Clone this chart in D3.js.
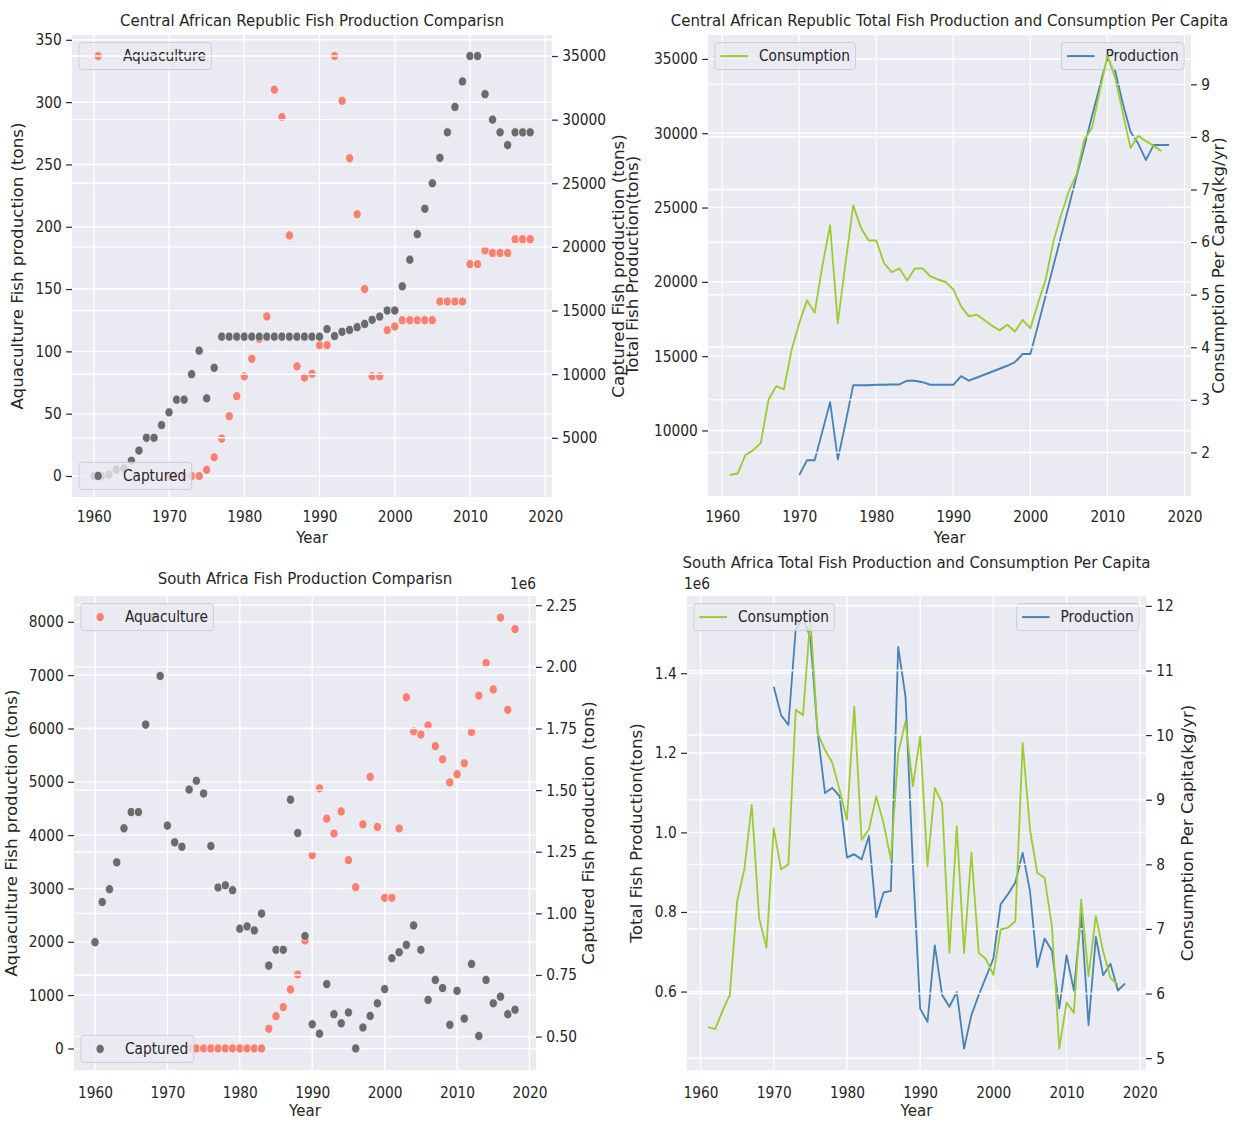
<!DOCTYPE html>
<html>
<head>
<meta charset="utf-8">
<script src="https://cdn.jsdelivr.net/npm/d3@7"></script>
<style>
  body { margin: 0; background: #fff; }
  text { font-family: "DejaVu Sans", sans-serif; fill: #262626; }
</style>
</head>
<body>
<svg id="chart" width="1234" height="1122"></svg>
<script>
// ---- data ----
var decadeTicks = [1960, 1970, 1980, 1990, 2000, 2010, 2020];

// Central African Republic
var carCapturedYears = d3.range(1960, 2019);
var carCaptured = [2000, 2000, 2100, 2500, 2600, 3200, 4000, 5000, 5000, 6000,
  7000, 8000, 8000, 10000, 11850, 8100, 10500, 12950, 12950, 12950,
  12950, 12950, 12950, 12950, 12950, 12950, 12950, 12950, 12950, 12950,
  12950, 13550, 13000, 13330, 13480, 13690, 13950, 14270, 14530, 15000,
  15000, 16900, 19000, 21000, 23000, 25000, 27000, 29000, 31000, 33000,
  35000, 35000, 32000, 30000, 29000, 28000, 29000, 29000, 29000];
var carAquaYears = d3.range(1970, 2019);
var carAquaculture = [0, 0, 0, 0, 0, 5, 15, 30, 48, 64,
  80, 94, 110, 128, 310, 288, 193, 88, 79, 82,
  105, 105, 337, 301, 255, 210, 150, 80, 80, 117,
  120, 125, 125, 125, 125, 125, 140, 140, 140, 140,
  170, 170, 181, 179, 179, 179, 190, 190, 190];
var carProdYears = d3.range(1970, 2019);
var carProduction = [7000, 8000, 8000, 9950, 11900, 8050, 10500, 13050, 13050, 13050,
  13080, 13080, 13100, 13100, 13350, 13350, 13250, 13080, 13080, 13080,
  13080, 13650, 13350, 13550, 13750, 13950, 14150, 14350, 14600, 15150,
  15150, 17100, 19100, 21100, 23100, 25100, 27100, 29100, 31150, 33150,
  35200, 34200, 32000, 30100, 29300, 28200, 29200, 29200, 29200];
var carConsYears = d3.range(1961, 2018);
var carConsumption = [1.57, 1.60, 1.95, 2.04, 2.18, 3.00, 3.26, 3.20, 3.95,
  4.46, 4.89, 4.66, 5.55, 6.32, 4.46, 5.60, 6.70, 6.27, 6.03,
  6.03, 5.60, 5.43, 5.50, 5.27, 5.50, 5.50, 5.35, 5.29, 5.24,
  5.10, 4.78, 4.59, 4.62, 4.52, 4.41, 4.32, 4.43, 4.30, 4.52,
  4.36, 4.84, 5.30, 6.02, 6.52, 6.97, 7.29, 7.95, 8.17, 8.87,
  9.54, 9.13, 8.46, 7.79, 8.02, 7.92, 7.83, 7.73];

// South Africa (captured and production in millions of tons, axis shows 1e6)
var saCapturedYears = d3.range(1960, 2019);
var saCaptured = [0.883, 1.046, 1.098, 1.207, 1.345, 1.411, 1.411, 1.766, 2.200, 1.963,
  1.356, 1.288, 1.270, 1.502, 1.538, 1.486, 1.273, 1.105, 1.114, 1.094,
  0.938, 0.947, 0.931, 0.999, 0.788, 0.852, 0.852, 1.461, 1.326, 0.908,
  0.550, 0.512, 0.713, 0.591, 0.554, 0.598, 0.452, 0.537, 0.584, 0.635,
  0.693, 0.818, 0.842, 0.872, 0.951, 0.852, 0.649, 0.730, 0.697, 0.548,
  0.686, 0.573, 0.795, 0.503, 0.730, 0.635, 0.662, 0.591, 0.609];
var saAquaYears = d3.range(1973, 2019);
var saAquaculture = [0, 0, 0, 0, 0, 0, 0, 0, 0, 0, 0,
  369, 606, 775, 1106, 1387, 2025, 3625, 4877, 4308, 4030,
  4444, 3531, 3025, 4203, 5093, 4153, 2825, 2825, 4123, 6584,
  5947, 5885, 6058, 5669, 5421, 4988, 5143, 5347, 5935, 6615,
  7227, 6732, 8080, 6349, 7864];
var saProdYears = d3.range(1970, 2019);
var saProduction = [1.366, 1.295, 1.270, 1.510, 1.540, 1.490, 1.250, 1.099, 1.112, 1.091,
  0.937, 0.945, 0.932, 0.991, 0.787, 0.849, 0.853, 1.466, 1.341, 0.920,
  0.557, 0.524, 0.716, 0.591, 0.562, 0.599, 0.457, 0.541, 0.591, 0.637,
  0.683, 0.820, 0.845, 0.874, 0.949, 0.853, 0.662, 0.733, 0.703, 0.558,
  0.691, 0.603, 0.795, 0.516, 0.737, 0.641, 0.670, 0.603, 0.620];
var saConsYears = d3.range(1961, 2018);
var saConsumption = [5.48, 5.45, 5.73, 5.98, 7.43, 7.94, 8.92, 7.17, 6.71,
  8.56, 7.92, 8.00, 10.39, 10.31, 11.82, 10.03, 9.77, 9.57, 9.15,
  8.69, 10.44, 8.38, 8.54, 9.05, 8.64, 8.07, 9.72, 10.21, 9.21,
  9.98, 7.97, 9.18, 8.95, 6.63, 8.59, 6.63, 8.18, 6.63, 6.53,
  6.29, 6.99, 7.02, 7.12, 9.88, 8.54, 7.87, 7.79, 7.04, 5.15,
  5.86, 5.70, 7.45, 6.27, 7.20, 6.65, 6.24, 6.14];

// tick values
var carAquaTicks = [0, 50, 100, 150, 200, 250, 300, 350];
var carCapTicks = [5000, 10000, 15000, 20000, 25000, 30000, 35000];
var carProdTicks = [10000, 15000, 20000, 25000, 30000, 35000];
var carConsTicks = [2, 3, 4, 5, 6, 7, 8, 9];
var saAquaTicks = [0, 1000, 2000, 3000, 4000, 5000, 6000, 7000, 8000];
var saCapTicks = [0.5, 0.75, 1.0, 1.25, 1.5, 1.75, 2.0, 2.25];
var saProdTicks = [0.6, 0.8, 1.0, 1.2, 1.4];
var saConsTicks = [5, 6, 7, 8, 9, 10, 11, 12];

// ---- drawing ----
var SX = 0.9;            // the picture is squeezed horizontally
var FS_TICK = 15.28, FS_LABEL = 16.67;
var COL = {bg: "#eaeaf2", aqua: "#fa8072", capt: "#6b6b6b", cons: "#9acd32", prod: "#4682b4", text: "#262626"};

var svg = d3.select("#chart");
svg.append("rect").attr("width", 1234).attr("height", 1122).attr("fill", "#fff");
var root = svg.append("g").attr("transform", `scale(${SX},1)`);

function X(px) { return px / SX; }
function padded(lo, hi) { var m = (hi - lo) * 0.05; return [lo - m, hi + m]; }

function drawSeries(g, s, x, y) {
  var pts = s.years.map((yr, i) => [yr, s.values[i]]);
  if (s.type === "dot") {
    g.append("g").selectAll("circle")
      .data(pts)
      .join("circle")
      .attr("cx", d => x(d[0]))
      .attr("cy", d => y(d[1]))
      .attr("r", 4.6)
      .attr("fill", s.color)
      .attr("stroke", "#fff")
      .attr("stroke-width", 0.7);
  } else {
    g.append("path")
      .datum(pts)
      .attr("fill", "none")
      .attr("stroke", s.color)
      .attr("stroke-width", 2)
      .attr("stroke-linejoin", "round")
      .attr("d", d3.line().x(d => x(d[0])).y(d => y(d[1])));
  }
}

function drawLegend(g, s, p) {
  var h = 27, pad = 6.1, handle = 30.6, gap = 12.2;
  var lg = g.append("g");
  var box = lg.append("rect");
  var txt = lg.append("text")
    .attr("font-size", FS_TICK)
    .attr("dy", "0.35em")
    .text(s.label);
  var w = pad + handle + gap + txt.node().getComputedTextLength() + pad;
  var x0, y0;
  if (s.legend === "ur") x0 = X(p.right - 6.9) - w; else x0 = X(p.left + 6.9);
  if (s.legend === "ll") y0 = p.bottom - 7.6 - h; else y0 = p.top + 7.6;
  box.attr("x", x0).attr("y", y0).attr("width", w).attr("height", h)
    .attr("rx", 3)
    .attr("fill", COL.bg).attr("fill-opacity", 0.8)
    .attr("stroke", "#cccccc").attr("stroke-width", 1);
  txt.attr("x", x0 + pad + handle + gap).attr("y", y0 + h / 2);
  if (s.type === "dot") {
    lg.append("circle")
      .attr("cx", x0 + pad + handle / 2).attr("cy", y0 + h / 2).attr("r", 4.6)
      .attr("fill", s.color).attr("stroke", "#fff").attr("stroke-width", 0.7);
  } else {
    lg.append("line")
      .attr("x1", x0 + pad).attr("x2", x0 + pad + handle)
      .attr("y1", y0 + h / 2).attr("y2", y0 + h / 2)
      .attr("stroke", s.color).attr("stroke-width", 2);
  }
  lg.raise();
}

function styleAxis(sel) {
  sel.attr("font-size", FS_TICK)
    .attr("font-family", "DejaVu Sans")
    .style("color", COL.text);
  sel.select(".domain").remove();
  sel.selectAll(".tick line").attr("stroke-width", 1.2);
}

function hGrid(g, ticks, y, p) {
  g.append("g").selectAll("line")
    .data(ticks)
    .join("line")
    .attr("x1", X(p.left)).attr("x2", X(p.right))
    .attr("y1", d => y(d)).attr("y2", d => y(d))
    .attr("stroke", "#fff").attr("stroke-width", 1.4);
}

function drawPanel(p) {
  var g = root.append("g");
  var s1 = p.series[0], s2 = p.series[1];
  var yearsAll = s1.years.concat(s2.years);
  var x = d3.scaleLinear()
    .domain(padded(d3.min(yearsAll), d3.max(yearsAll)))
    .range([X(p.left), X(p.right)]);
  var yL = d3.scaleLinear()
    .domain(padded(d3.min(s1.values), d3.max(s1.values)))
    .range([p.bottom, p.top]);
  var yR = d3.scaleLinear()
    .domain(padded(d3.min(s2.values), d3.max(s2.values)))
    .range([p.bottom, p.top]);

  // background and first axes grid
  g.append("rect")
    .attr("x", X(p.left)).attr("y", p.top)
    .attr("width", X(p.right) - X(p.left)).attr("height", p.bottom - p.top)
    .attr("fill", COL.bg);
  g.append("g").selectAll("line")
    .data(decadeTicks)
    .join("line")
    .attr("x1", d => x(d)).attr("x2", d => x(d))
    .attr("y1", p.top).attr("y2", p.bottom)
    .attr("stroke", "#fff").attr("stroke-width", 1.5);
  hGrid(g, p.leftTicks, yL, p);

  // first axes: data + legend
  var g1 = g.append("g");
  drawSeries(g1, s1, x, yL);
  var leg1 = g.append("g");
  if (!p.legend1OnTop) drawLegend(leg1, s1, p);

  // twin axes: grid, data, legend on top
  hGrid(g, p.rightTicks, yR, p);
  drawSeries(g, s2, x, yR);
  drawLegend(g, s2, p);
  if (p.legend1OnTop) drawLegend(g, s1, p);

  // axes
  g.append("g")
    .attr("transform", `translate(0,${p.bottom})`)
    .call(d3.axisBottom(x).tickValues(decadeTicks).tickSize(0).tickPadding(p.xPad).tickFormat(d3.format("d")))
    .call(styleAxis);
  g.append("g")
    .attr("transform", `translate(${X(p.left)},0)`)
    .call(d3.axisLeft(yL).tickValues(p.leftTicks).tickSize(6.5).tickPadding(5).tickFormat(d3.format(p.leftFmt)))
    .call(styleAxis);
  g.append("g")
    .attr("transform", `translate(${X(p.right)},0)`)
    .call(d3.axisRight(yR).tickValues(p.rightTicks).tickSize(6.5).tickPadding(5).tickFormat(d3.format(p.rightFmt)))
    .call(styleAxis);

  // texts
  var cx = X((p.left + p.right) / 2), cy = (p.top + p.bottom) / 2;
  g.append("text")
    .attr("x", cx).attr("y", p.titleY).attr("dy", "0.35em")
    .attr("text-anchor", "middle").attr("font-size", FS_LABEL)
    .text(p.title);
  g.append("text")
    .attr("x", cx).attr("y", p.xLabelY).attr("dy", "0.35em")
    .attr("text-anchor", "middle").attr("font-size", FS_LABEL)
    .text("Year");
  g.append("text")
    .attr("transform", `translate(${X(p.leftLabelX)},${cy}) rotate(-90)`)
    .attr("dy", "0.35em").attr("text-anchor", "middle").attr("font-size", FS_LABEL)
    .text(p.leftLabel);
  g.append("text")
    .attr("transform", `translate(${X(p.rightLabelX)},${cy}) rotate(-90)`)
    .attr("dy", "0.35em").attr("text-anchor", "middle").attr("font-size", FS_LABEL)
    .text(p.rightLabel);
  if (p.offset) {
    g.append("text")
      .attr("x", X(p.offset[0])).attr("y", p.offset[1]).attr("dy", "0.35em")
      .attr("text-anchor", "middle").attr("font-size", FS_TICK)
      .text("1e6");
  }
}

drawPanel({
  left: 72, right: 552, top: 35, bottom: 497, xPad: 13.7,
  title: "Central African Republic Fish Production Comparisn", titleY: 20, xLabelY: 537,
  leftLabel: "Aquaculture Fish production (tons)", leftLabelX: 18,
  rightLabel: "Captured Fish production (tons)", rightLabelX: 619,
  leftTicks: carAquaTicks, rightTicks: carCapTicks, leftFmt: "d", rightFmt: "d",
  series: [
    {years: carAquaYears, values: carAquaculture, type: "dot", color: COL.aqua, label: "Aquaculture", legend: "ul"},
    {years: carCapturedYears, values: carCaptured, type: "dot", color: COL.capt, label: "Captured", legend: "ll"}
  ]
});

drawPanel({
  left: 708, right: 1191, top: 35, bottom: 496, xPad: 14.7,
  title: "Central African Republic Total Fish Production and Consumption Per Capita", titleY: 20, xLabelY: 537,
  leftLabel: "Total Fish Production(tons)", leftLabelX: 633,
  rightLabel: "Consumption Per Capita(kg/yr)", rightLabelX: 1219,
  leftTicks: carProdTicks, rightTicks: carConsTicks, leftFmt: "d", rightFmt: "d",
  series: [
    {years: carProdYears, values: carProduction, type: "line", color: COL.prod, label: "Production", legend: "ur"},
    {years: carConsYears, values: carConsumption, type: "line", color: COL.cons, label: "Consumption", legend: "ul"}
  ]
});

drawPanel({
  left: 74, right: 536, top: 596, bottom: 1070, xPad: 16.7,
  title: "South Africa Fish Production Comparisn", titleY: 578, xLabelY: 1110,
  leftLabel: "Aquaculture Fish production (tons)", leftLabelX: 12,
  rightLabel: "Captured Fish production (tons)", rightLabelX: 589,
  leftTicks: saAquaTicks, rightTicks: saCapTicks, leftFmt: "d", rightFmt: ".2f",
  offset: [523, 584], legend1OnTop: true,
  series: [
    {years: saAquaYears, values: saAquaculture, type: "dot", color: COL.aqua, label: "Aquaculture", legend: "ul"},
    {years: saCapturedYears, values: saCaptured, type: "dot", color: COL.capt, label: "Captured", legend: "ll"}
  ]
});

drawPanel({
  left: 687, right: 1146, top: 596, bottom: 1070, xPad: 16.7,
  title: "South Africa Total Fish Production and Consumption Per Capita", titleY: 562, xLabelY: 1110,
  leftLabel: "Total Fish Production(tons)", leftLabelX: 637,
  rightLabel: "Consumption Per Capita(kg/yr)", rightLabelX: 1188,
  leftTicks: saProdTicks, rightTicks: saConsTicks, leftFmt: ".1f", rightFmt: "d",
  offset: [697, 584],
  series: [
    {years: saProdYears, values: saProduction, type: "line", color: COL.prod, label: "Production", legend: "ur"},
    {years: saConsYears, values: saConsumption, type: "line", color: COL.cons, label: "Consumption", legend: "ul"}
  ]
});
</script>
</body>
</html>
